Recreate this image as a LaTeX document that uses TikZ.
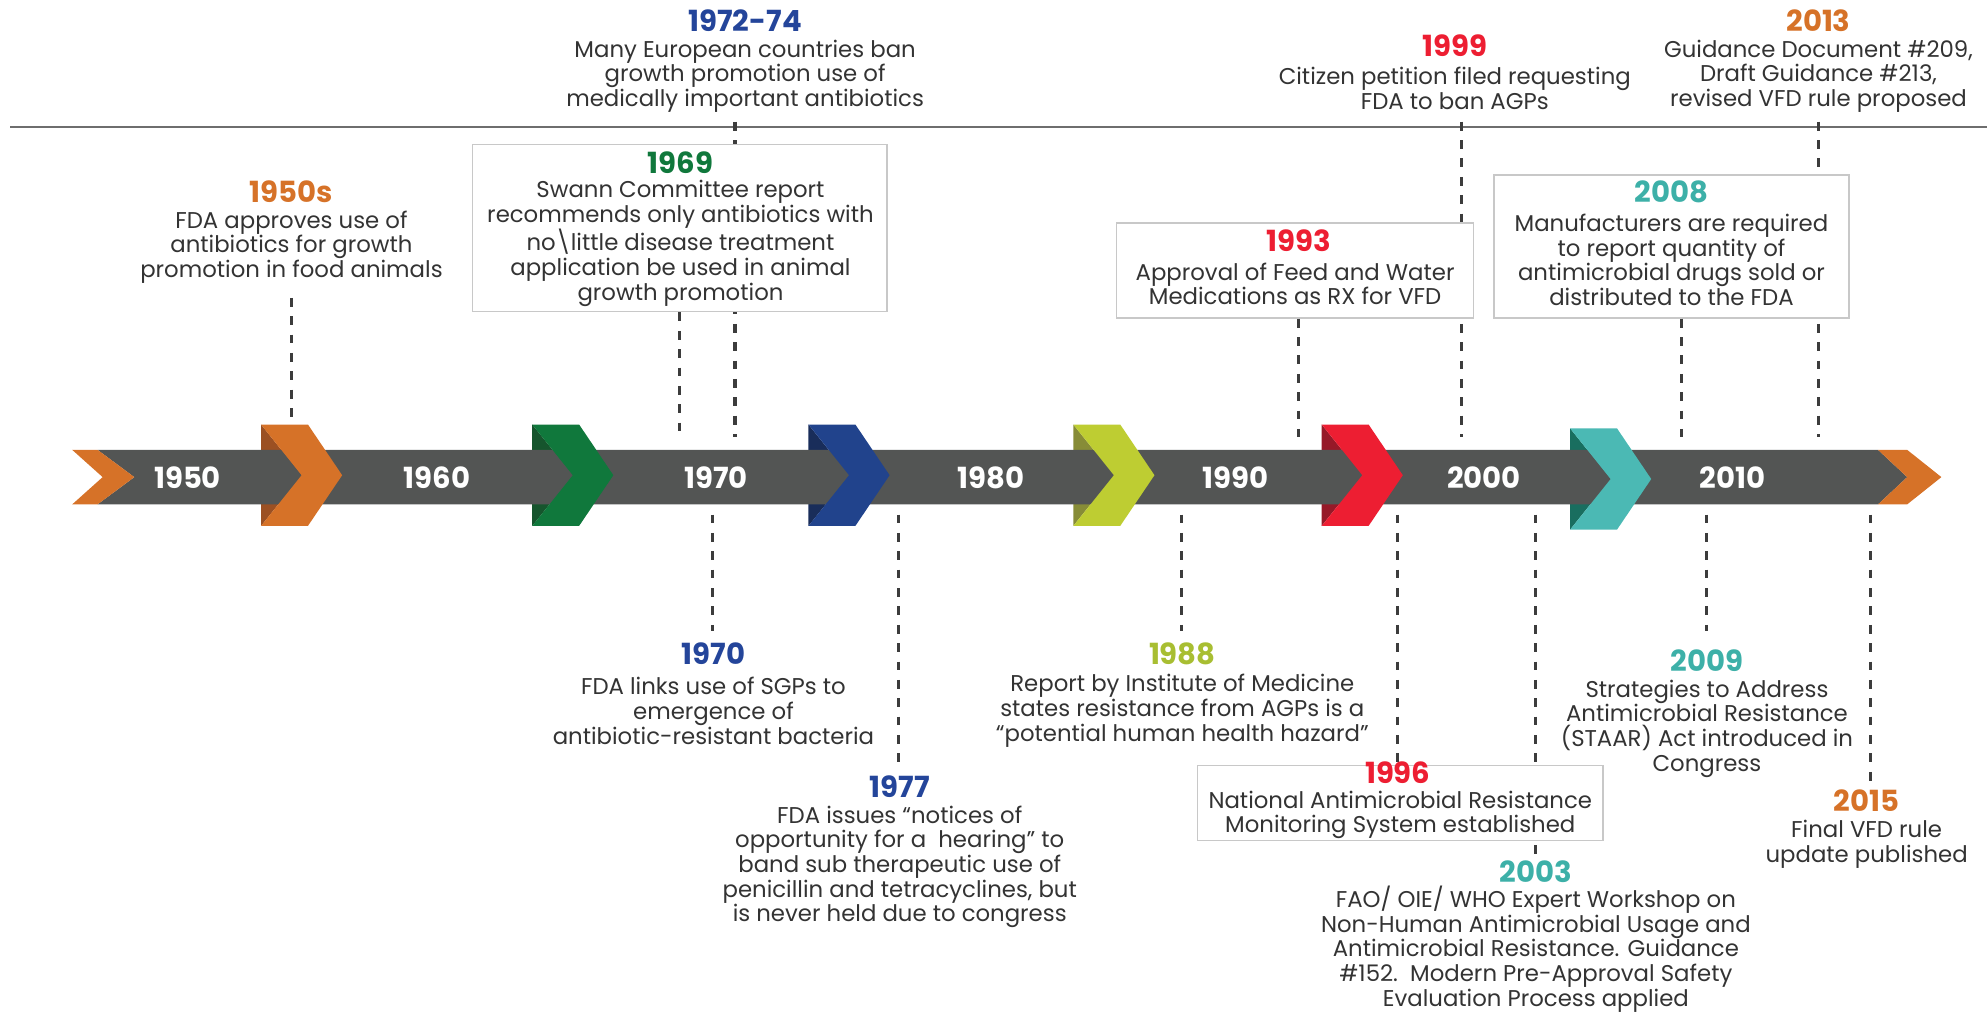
\documentclass[tikz,border=0pt]{standalone}
\usepackage{fontspec}
\setmainfont{Poppins}
\usetikzlibrary{positioning}

\definecolor{tlBar}{HTML}{535554}
\definecolor{tlText}{HTML}{333333}
\definecolor{tlDash}{HTML}{3C3C3C}
\definecolor{tlBox}{HTML}{C8C8C8}
\definecolor{tlRule}{HTML}{6E6E6E}
\definecolor{tlOrange}{HTML}{D67228}
\definecolor{tlOrangeDk}{HTML}{9B5023}
\definecolor{tlGreen}{HTML}{10783C}
\definecolor{tlGreenDk}{HTML}{16552D}
\definecolor{tlBlue}{HTML}{21438C}
\definecolor{tlBlueDk}{HTML}{192D5A}
\definecolor{tlLime}{HTML}{BECD32}
\definecolor{tlLimeDk}{HTML}{878C37}
\definecolor{tlRed}{HTML}{ED1E32}
\definecolor{tlRedDk}{HTML}{961928}
\definecolor{tlTeal}{HTML}{4BB9B4}
\definecolor{tlTealDk}{HTML}{196E5F}
\definecolor{yrBlue}{HTML}{24459A}
\definecolor{yrLime}{HTML}{A8BE32}
\definecolor{yrTeal}{HTML}{3DB0A8}

\tikzset{
  leader/.style={draw=tlDash, line width=2.4pt, dash pattern=on 7pt off 7.5pt},
  evbox/.style={draw=tlBox, line width=1pt, fill=white, inner sep=0pt},
  yr/.style={font=\fontsize{23}{26}\selectfont\bfseries, inner sep=0pt},
  desc/.style={font=\fontsize{18}{19.5}\selectfont, text=tlText, align=center, inner sep=0pt},
  decade/.style={font=\fontsize{23}{26}\selectfont\bfseries, text=white, inner sep=0pt},
}

\begin{document}
\begin{tikzpicture}[x=1pt, y=-1pt]
    \useasboundingbox (0,0) rectangle (1568,798.6);
    \draw[line width=1.5pt, tlRule] (8,100) -- (1568,100);

    % dashed leaders (drawn first, boxes sit on top)
    \coordinate (s50) at (230,235);  \coordinate (k50) at (230,329);
    \coordinate (s72) at (580,96);   \coordinate (k72) at (580,345);
    \coordinate (k69) at (536.5,345);
    \coordinate (k93) at (1025,345);
    \coordinate (s99) at (1153,96);  \coordinate (k99) at (1153,345);
    \coordinate (k08) at (1327,345);
    \coordinate (s13) at (1435,96);  \coordinate (k13) at (1435,345);
    \coordinate (k70) at (562,406);  \coordinate (s70) at (562,498);
    \coordinate (k77) at (709,406);  \coordinate (s77) at (709,602);
    \coordinate (k88) at (932,406);  \coordinate (s88) at (932,498);
    \coordinate (k96) at (1103,406);
    \coordinate (k03) at (1212,406); \coordinate (s03) at (1212,675);
    \coordinate (k09) at (1347,406); \coordinate (s09) at (1347,498);
    \coordinate (k15) at (1476,406); \coordinate (s15) at (1476,618);
    \draw[leader] (s50) -- (k50);
    \draw[leader] (s72) -- (k72);
    \draw[leader] (s99) -- (k99);
    \draw[leader] (s13) -- (k13);
    \draw[leader] (k70) -- (s70);
    \draw[leader] (k77) -- (s77);
    \draw[leader] (k88) -- (s88);
    \draw[leader] (k03) -- (s03);
    \draw[leader] (k09) -- (s09);
    \draw[leader] (k15) -- (s15);

    % boxes
    \node[evbox, minimum width=327pt, minimum height=132pt] (b69) at (536.5,180) {};
    \node[evbox, minimum width=282pt, minimum height=75pt] (b93) at (1022,213.5) {};
    \node[evbox, minimum width=280pt, minimum height=113pt] (b08) at (1319,194.5) {};
    \node[evbox, minimum width=320pt, minimum height=59pt] (b96) at (1105,633.5) {};
    \draw[leader] (b69.south) -- (k69);
    \draw[leader] (b93.south -| k93) -- (k93);
    \draw[leader] (b08.south -| k08) -- (k08);
    \draw[leader] (k96) -- (b96.north -| k96);

    % timeline bar
    \foreach \L/\dy/\cf/\cd in {206/0/tlOrange/tlOrangeDk, 420/0/tlGreen/tlGreenDk, 638/0/tlBlue/tlBlueDk,
        847/0/tlLime/tlLimeDk, 1043/0/tlRed/tlRedDk, 1239/3/tlTeal/tlTealDk}
      \fill[\cd] (\L,335+\dy) -- (\L+32,375+\dy) -- (\L,415+\dy) -- cycle;
    \fill[tlBar] (77,355) -- (1482,355) -- (1505,376.5) -- (1482,398) -- (77,398) -- (106,376.5) -- cycle;
    \foreach \L/\dy/\cf/\cd in {206/0/tlOrange/tlOrangeDk, 420/0/tlGreen/tlGreenDk, 638/0/tlBlue/tlBlueDk,
        847/0/tlLime/tlLimeDk, 1043/0/tlRed/tlRedDk, 1239/3/tlTeal/tlTealDk}
      \fill[\cf] (\L,335+\dy) -- (\L+37,335+\dy) -- (\L+64,375+\dy) -- (\L+37,415+\dy)
        -- (\L,415+\dy) -- (\L+32,375+\dy) -- cycle;
    \fill[tlOrange] (57,355) -- (77,355) -- (106,376.5) -- (77,398) -- (57,398) -- (81,376.5) -- cycle;
    \fill[tlOrange] (1482,355) -- (1505,355) -- (1532,376.5) -- (1505,398) -- (1482,398) -- (1505,376.5) -- cycle;

    \node[decade] (l1950) at (148,377) {1950};
    \node[decade] (l1960) at (345,377) {1960};
    \node[decade] (l1970) at (565,377) {1970};
    \node[decade] (l1980) at (782,377) {1980};
    \node[decade] (l1990) at (975,377) {1990};
    \node[decade] (l2000) at (1171,377) {2000};
    \node[decade] (l2010) at (1367,377) {2010};

    % events above the bar
    \node[yr, text=tlOrange] (y50) at (230,151) {1950s};
    \node[desc] (d50) at (230,195) {FDA approves use of\\antibiotics for growth\\promotion in food animals};
    \node[yr, text=yrBlue] (y72) at (588,16) {1972-74};
    \node[desc] (d72) at (588,60) {Many European countries ban\\growth promotion use of\\medically important antibiotics};
    \node[yr, text=tlGreen] (y69) at (537,128) {1969};
    \node[desc] (d69) at (537,192) {Swann Committee report\\recommends only antibiotics with\\no\textbackslash little disease treatment\\application be used in animal\\growth promotion};
    \node[yr, text=tlRed] (y93) at (1025,190) {1993};
    \node[desc] (d93) at (1022,224) {Approval of Feed and Water\\Medications as RX for VFD};
    \node[yr, text=tlRed] (y99) at (1148,36) {1999};
    \node[desc] (d99) at (1148,70) {Citizen petition filed requesting\\FDA to ban AGPs};
    \node[yr, text=yrTeal] (y08) at (1319,151) {2008};
    \node[desc] (d08) at (1319,205) {Manufacturers are required\\to report quantity of\\antimicrobial drugs sold or\\distributed to the FDA};
    \node[yr, text=tlOrange] (y13) at (1435,16) {2013};
    \node[desc] (d13) at (1435,60) {Guidance Document \#209,\\Draft Guidance \#213,\\revised VFD rule proposed};

    % events below the bar
    \node[yr, text=yrBlue] (y70) at (563,516) {1970};
    \node[desc] (d70) at (563,561) {FDA links use of SGPs to\\emergence of\\antibiotic-resistant bacteria};
    \node[yr, text=yrBlue] (y77) at (710,621) {1977};
    \node[desc] (d77) at (710,684) {FDA issues “notices of\\opportunity for a\ \ hearing\char34\ to\\band sub therapeutic use of\\penicillin and tetracyclines, but\\is never held due to congress};
    \node[yr, text=yrLime] (y88) at (933,516) {1988};
    \node[desc] (d88) at (933,561) {Report by Institute of Medicine\\states resistance from AGPs is a\\“potential human health hazard\char34};
    \node[yr, text=tlRed] (y96) at (1103,610) {1996};
    \node[desc] (d96) at (1105,643) {National Antimicrobial Resistance\\Monitoring System established};
    \node[yr, text=yrTeal] (y03) at (1212,688) {2003};
    \node[desc] (d03) at (1212,749) {FAO/ OIE/ WHO Expert Workshop on\\Non-Human Antimicrobial Usage and\\Antimicrobial Resistance. Guidance\\\#152.\ \ Modern Pre-Approval Safety\\Evaluation Process applied};
    \node[yr, text=yrTeal] (y09) at (1347,521) {2009};
    \node[desc] (d09) at (1347,575) {Strategies to Address\\Antimicrobial Resistance\\(STAAR) Act introduced in\\Congress};
    \node[yr, text=tlOrange] (y15) at (1473,632) {2015};
    \node[desc] (d15) at (1473,666) {Final VFD rule\\update published};
\end{tikzpicture}
\end{document}
